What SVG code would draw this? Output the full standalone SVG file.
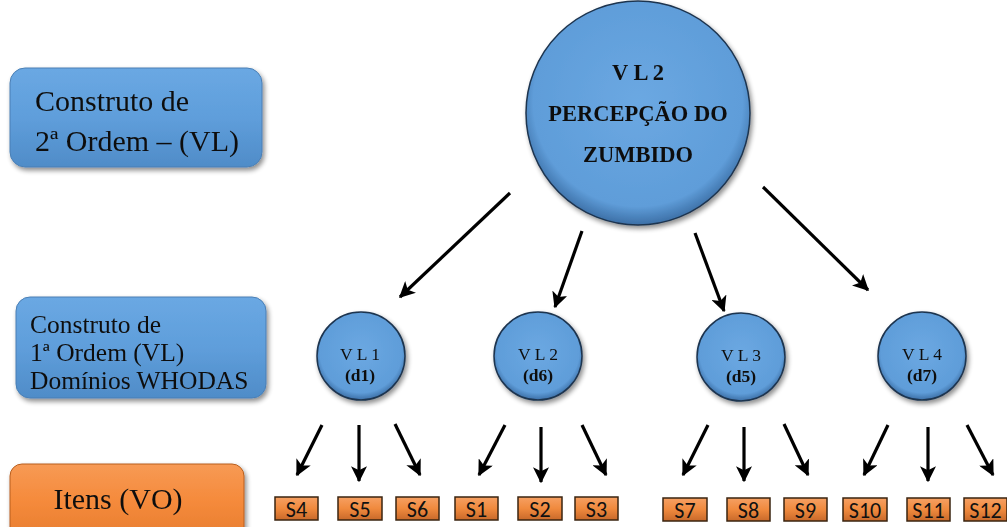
<svg xmlns="http://www.w3.org/2000/svg" width="1007" height="527" viewBox="0 0 1007 527">
<style>
.lbl{font-family:"Liberation Serif","Times New Roman",serif;fill:#111}
.b{font-weight:bold}
.it{font-family:Carlito,"Liberation Sans",Arial,sans-serif;font-size:22px;fill:#111;text-anchor:middle}
.conn line{stroke:#000;stroke-width:3.2;marker-end:url(#ah)}
.circ{fill:url(#cg);stroke:#1d344f;stroke-width:1.5}
.sbox{fill:url(#og);stroke:#3a2410;stroke-width:1.5}
.bbox{fill:url(#bg);stroke:#4a7fb5;stroke-width:1}
.obox{fill:url(#og2);stroke:#b85f1e;stroke-width:1}
</style>
<defs>
<radialGradient id="cg" cx="50%" cy="45%" r="55%">
<stop offset="0" stop-color="#6ba8e2"/>
<stop offset="0.85" stop-color="#5f9dd9"/>
<stop offset="1" stop-color="#3c6fa6"/>
</radialGradient>
<linearGradient id="bg" x1="0" y1="0" x2="0" y2="1">
<stop offset="0" stop-color="#6aa8e3"/>
<stop offset="0.5" stop-color="#5f9edb"/>
<stop offset="1" stop-color="#4f8cc8"/>
</linearGradient>
<linearGradient id="og" x1="0" y1="0" x2="0" y2="1">
<stop offset="0" stop-color="#f6a063"/>
<stop offset="0.5" stop-color="#f08a3e"/>
<stop offset="1" stop-color="#c8692a"/>
</linearGradient>
<linearGradient id="og2" x1="0" y1="0" x2="0" y2="1">
<stop offset="0" stop-color="#f79a55"/>
<stop offset="0.5" stop-color="#f58a3b"/>
<stop offset="1" stop-color="#e77d30"/>
</linearGradient>
<filter id="sh" x="-10%" y="-10%" width="130%" height="130%">
<feGaussianBlur in="SourceAlpha" stdDeviation="2.5"/>
<feOffset dx="2" dy="3"/>
<feComponentTransfer><feFuncA type="linear" slope="0.45"/></feComponentTransfer>
<feMerge><feMergeNode/><feMergeNode in="SourceGraphic"/></feMerge>
</filter>
<marker id="ah" viewBox="0 0 12 12" refX="11" refY="6" markerWidth="5" markerHeight="5" orient="auto" markerUnits="strokeWidth">
<path d="M0,0 L12,6 L0,12 L3,6 Z" fill="#000"/>
</marker>
</defs>
<rect width="1007" height="527" fill="#fff"/>

<g id="legend-2nd" filter="url(#sh)">
<rect class="bbox" x="10" y="68" width="252" height="99" rx="15"/>
<text class="lbl" x="35" y="111" font-size="30">Construto de</text>
<text class="lbl" x="35" y="151" font-size="30">2ª Ordem – (VL)</text>
</g>
<g id="legend-1st" filter="url(#sh)">
<rect class="bbox" x="16" y="297" width="250" height="101" rx="14"/>
<text class="lbl" x="30" y="333" font-size="25.5">Construto de</text>
<text class="lbl" x="30" y="361" font-size="25.5">1ª Ordem (VL)</text>
<text class="lbl" x="30" y="389" font-size="25.5">Domínios WHODAS</text>
</g>
<g id="legend-items" filter="url(#sh)">
<rect class="obox" x="10" y="464" width="234" height="75" rx="12"/>
<text class="lbl" x="118" y="509" font-size="30" text-anchor="middle">Itens (VO)</text>
</g>

<g id="vl2-main" filter="url(#sh)">
<circle class="circ" cx="638" cy="113" r="112"/>
<text class="lbl b" x="638" y="80" font-size="22.5" text-anchor="middle">V L 2</text>
<text class="lbl b" x="638" y="121" font-size="22.5" text-anchor="middle">PERCEPÇÃO DO</text>
<text class="lbl b" x="638" y="162" font-size="22.5" text-anchor="middle">ZUMBIDO</text>
</g>

<g id="vl1" filter="url(#sh)">
<circle class="circ" cx="361" cy="356" r="44"/>
<text class="lbl" x="360" y="360" font-size="17.5" text-anchor="middle">V L 1</text>
<text class="lbl b" x="360" y="381" font-size="17.5" text-anchor="middle">(d1)</text>
</g>
<g id="vl2" filter="url(#sh)">
<circle class="circ" cx="538" cy="356" r="44"/>
<text class="lbl" x="538" y="360" font-size="17.5" text-anchor="middle">V L 2</text>
<text class="lbl b" x="538" y="381" font-size="17.5" text-anchor="middle">(d6)</text>
</g>
<g id="vl3" filter="url(#sh)">
<circle class="circ" cx="741" cy="357" r="44"/>
<text class="lbl" x="741" y="361" font-size="17.5" text-anchor="middle">V L 3</text>
<text class="lbl b" x="741" y="382" font-size="17.5" text-anchor="middle">(d5)</text>
</g>
<g id="vl4" filter="url(#sh)">
<circle class="circ" cx="922" cy="356" r="44"/>
<text class="lbl" x="922" y="360" font-size="17.5" text-anchor="middle">V L 4</text>
<text class="lbl b" x="922" y="381" font-size="17.5" text-anchor="middle">(d7)</text>
</g>

<g id="connectors" class="conn">
<line x1="510" y1="193" x2="400" y2="297"/>
<line x1="582" y1="231" x2="555" y2="307"/>
<line x1="695" y1="233" x2="724" y2="311"/>
<line x1="763" y1="187" x2="868" y2="290"/>
<line x1="322" y1="425" x2="297" y2="475"/>
<line x1="359" y1="425" x2="359" y2="481"/>
<line x1="395" y1="424" x2="420" y2="475"/>
<line x1="505" y1="425" x2="479" y2="475"/>
<line x1="541" y1="427" x2="541" y2="482"/>
<line x1="582" y1="425" x2="606" y2="475"/>
<line x1="708" y1="425" x2="683" y2="475"/>
<line x1="744" y1="427" x2="744" y2="481"/>
<line x1="784" y1="424" x2="808" y2="475"/>
<line x1="888" y1="425" x2="864" y2="475"/>
<line x1="928" y1="427" x2="928" y2="481"/>
<line x1="967" y1="425" x2="993" y2="475"/>
</g>

<g id="s4"><rect class="sbox" x="275" y="497" width="43" height="23"/><text class="it" x="296.5" y="517">S4</text></g>
<g id="s5"><rect class="sbox" x="338" y="497" width="44" height="23"/><text class="it" x="360" y="517">S5</text></g>
<g id="s6"><rect class="sbox" x="396" y="497" width="43" height="23"/><text class="it" x="417.5" y="517">S6</text></g>
<g id="s1"><rect class="sbox" x="455" y="497" width="43" height="23"/><text class="it" x="476.5" y="517">S1</text></g>
<g id="s2"><rect class="sbox" x="518" y="497" width="44" height="23"/><text class="it" x="540" y="517">S2</text></g>
<g id="s3"><rect class="sbox" x="575" y="497" width="43" height="23"/><text class="it" x="596.5" y="517">S3</text></g>
<g id="s7"><rect class="sbox" x="663" y="498" width="44" height="23"/><text class="it" x="685" y="518">S7</text></g>
<g id="s8"><rect class="sbox" x="727" y="498" width="43" height="23"/><text class="it" x="748.5" y="518">S8</text></g>
<g id="s9"><rect class="sbox" x="784" y="498" width="43" height="23"/><text class="it" x="805.5" y="518">S9</text></g>
<g id="s10"><rect class="sbox" x="843" y="498" width="44" height="23"/><text class="it" x="865" y="518">S10</text></g>
<g id="s11"><rect class="sbox" x="907" y="498" width="43" height="23"/><text class="it" x="928.5" y="518">S11</text></g>
<g id="s12"><rect class="sbox" x="964" y="498" width="43" height="23"/><text class="it" x="985.5" y="518">S12</text></g>
</svg>
